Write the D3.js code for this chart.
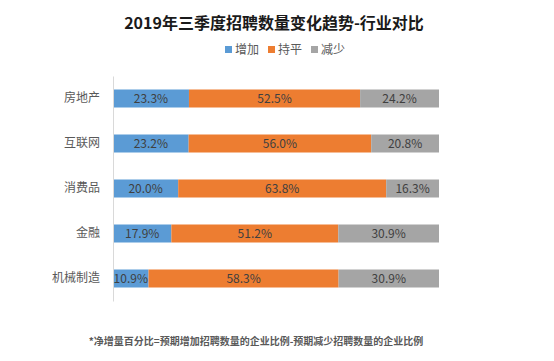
<!DOCTYPE html>
<html><head><meta charset="utf-8">
<script src="https://cdn.jsdelivr.net/npm/d3@7"></script>
<style>body{margin:0;background:#fff;} svg{display:block;}</style>
</head><body>
<svg id="c" width="554" height="361"></svg>
<script>
const categories = ["房地产","互联网","消费品","金融","机械制造"];
const seriesNames = ["增加","持平","减少"];
const increase = [23.3, 23.2, 20.0, 17.9, 10.9];
const flat = [52.5, 56.0, 63.8, 51.2, 58.3];
const decrease = [24.2, 20.8, 16.3, 30.9, 30.9];
const colors = ["#5B9BD5","#ED7D31","#A5A5A5"];
const title = "2019年三季度招聘数量变化趋势-行业对比";
const footnote = "*净增量百分比=预期增加招聘数量的企业比例-预期减少招聘数量的企业比例";

const font = "'Noto Sans CJK SC', 'Noto Sans', sans-serif";
const svg = d3.select("#c");
const rows = categories.map((c,i)=>({cat:c, vals:[increase[i], flat[i], decrease[i]]}));

const x = d3.scaleLinear().domain([0, 100]).range([113, 439]);
const y = d3.scaleBand().domain(categories).range([76, 301]).paddingInner(0.6).paddingOuter(0.3);

// title
svg.append("text").attr("x", 274).attr("y", 29).attr("text-anchor","middle")
  .attr("font-family", font).attr("font-size", 16).attr("font-weight","bold").attr("fill","#1a1a1a")
  .text(title);

// legend
const legX = [225, 268, 311];
seriesNames.forEach((n,i)=>{
  const g = svg.append("g").attr("transform", `translate(${legX[i]},50)`);
  g.append("rect").attr("x",0).attr("y",-4).attr("width",7).attr("height",7).attr("fill",colors[i]);
  g.append("text").attr("x",10).attr("y",4).attr("font-family",font).attr("font-size",12)
    .attr("fill","#595959").text(n);
});

// bars
rows.forEach(r=>{
  let acc = 0;
  r.vals.forEach((v,i)=>{
    const x0 = x(acc), x1 = x(acc+v);
    const xe = Math.min(x1, x(100));
    svg.append("rect").attr("x", x0).attr("y", y(r.cat)).attr("width", Math.max(0, xe-x0))
      .attr("height", y.bandwidth()).attr("fill", colors[i]);
    svg.append("text").attr("x",(x0+xe)/2).attr("y", y(r.cat)+y.bandwidth()/2+4.5)
      .attr("text-anchor","middle").attr("font-family",font).attr("font-size",12)
      .attr("fill","#404040").text(v.toFixed(1)+"%");
    acc += v;
  });
});

// axis
const ax = svg.append("g").attr("transform","translate(113,0)").call(d3.axisLeft(y).tickSize(0).tickPadding(13));
ax.select(".domain").attr("stroke","#d9d9d9");
ax.selectAll("text").attr("font-family",font).attr("font-size",12).attr("fill","#595959");

// footnote
svg.append("text").attr("x", 256).attr("y", 345).attr("text-anchor","middle")
  .attr("font-family", font).attr("font-size", 10).attr("font-weight","bold").attr("fill","#595959")
  .text(footnote);
</script>
</body></html>
